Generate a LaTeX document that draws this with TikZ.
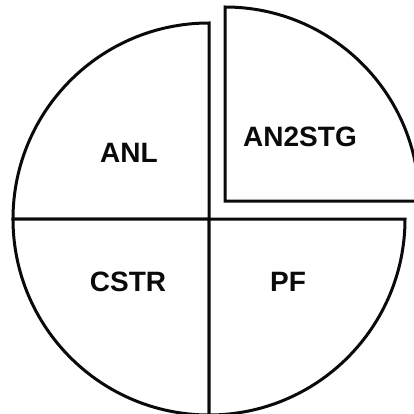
\documentclass[tikz,border=0pt]{standalone}
\usepackage{fontspec}
\setmainfont{Liberation Sans}
\usepackage{xcolor}
\usepackage{tikz}
\usetikzlibrary{positioning}
\definecolor{sliceline}{RGB}{10, 10, 10}
\definecolor{slicefill}{RGB}{255, 255, 255}
\tikzset{
  slice/.style={draw=sliceline, fill=slicefill, line width=3pt,
    line join=miter},
  tag/.style={inner sep=0pt, align=center, text=sliceline,
    font=\bfseries\fontsize{28}{28}\selectfont},
}

\begin{document}
\begin{tikzpicture}[x=1pt, y=1pt]

  \useasboundingbox (0,0) rectangle (414,413);
  \clip (0,0) rectangle (414,413);

  % ── Center of the pie ──
  \coordinate (mid) at (209,194);
  \coordinate (cut) at (225,212);

  % ── Quadrants ──
  \draw[slice] (mid) -- ++(-196,0) arc[start angle=180, end angle=90, radius=196] -- cycle;
  \draw[slice] (mid) -- ++(0,-196) arc[start angle=270, end angle=180, radius=196] -- cycle;
  \draw[slice] (mid) -- ++(196,0) arc[start angle=0, end angle=-90, radius=196] -- cycle;

  % ── Pulled-out quadrant ──
  \draw[slice] (cut) -- ++(194,0) arc[start angle=0, end angle=90, radius=194] -- cycle;

  % ── Labels ──
  \node[tag] (anl)    at (129,260) {ANL};
  \node[tag] (an2stg) at (300,276) {AN2STG};
  \node[tag] (cstr)   at (128,131) {CSTR};
  \node[tag] (pf)     at (288,131) {PF};

\end{tikzpicture}
\end{document}
